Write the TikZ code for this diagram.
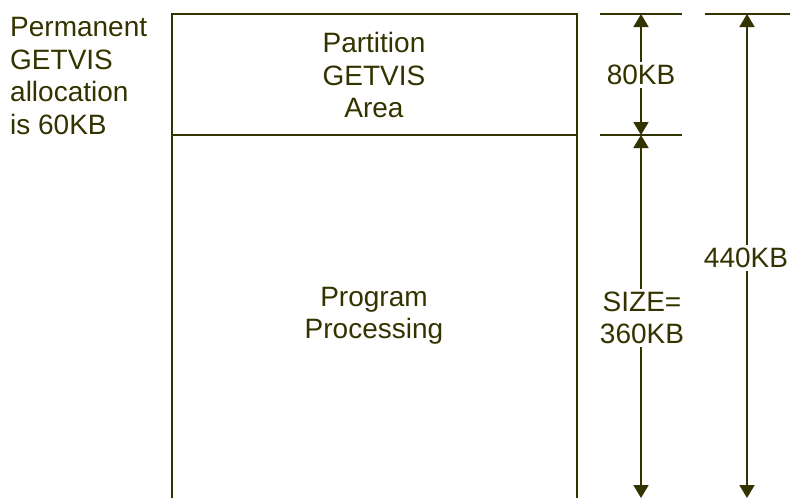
\documentclass[tikz,border=0pt]{standalone}
\usepackage{fontspec}
\setmainfont{Liberation Sans}
\usetikzlibrary{arrows.meta}
\definecolor{ink}{RGB}{51,51,0}
\begin{document}
\begin{tikzpicture}[x=1pt,y=-1pt,
  line/.style={draw=ink,line width=1.8pt},
  dim/.style={draw=ink,line width=1.8pt,{Triangle[width=15pt,length=13pt]}-{Triangle[width=15pt,length=13pt]}},
  lbl/.style={text=ink,font=\fontsize{28}{32.5}\selectfont,align=center,inner sep=1pt},
  dimlbl/.style={lbl,fill=white,inner sep=3pt}]
\useasboundingbox (0,0) rectangle (790,498);
% box
\coordinate (tl) at (172,14);
\coordinate (tr) at (577,14);
\coordinate (ml) at (172,135);
\coordinate (mr) at (577,135);
\coordinate (bl) at (172,498);
\coordinate (br) at (577,498);
\draw[line] (bl) -- (tl) -- (tr) -- (br);
\draw[line] (ml) -- (mr);
\node[lbl] (part) at (374,75) {Partition\\GETVIS\\Area};
\node[lbl] (prog) at (374,316) {Program\\Processing};
\node[lbl,anchor=west,align=left,inner sep=0pt] (perm) at (10,76) {Permanent\\GETVIS\\allocation\\is 60KB};
% ticks
\coordinate (t1a) at (600,14);
\coordinate (t1b) at (682,14);
\coordinate (t2a) at (600,135);
\coordinate (t2b) at (682,135);
\coordinate (t3a) at (705,14);
\coordinate (t3b) at (790,14);
\draw[line] (t1a) -- (t1b);
\draw[line] (t2a) -- (t2b);
\draw[line] (t3a) -- (t3b);
% dimension arrows
\coordinate (a1t) at (641,14);
\coordinate (a1b) at (641,135);
\coordinate (a2b) at (641,498);
\coordinate (a3t) at (747,14);
\coordinate (a3b) at (747,498);
\draw[dim] (a1t) -- (a1b);
\draw[dim] (a1b) -- (a2b);
\draw[dim] (a3t) -- (a3b);
\node[dimlbl] (d1) at (641,75) {80KB};
\node[dimlbl] (d2) at (642,318) {SIZE=\\360KB};
\node[dimlbl] (d3) at (746,258) {440KB};
\end{tikzpicture}
\end{document}
